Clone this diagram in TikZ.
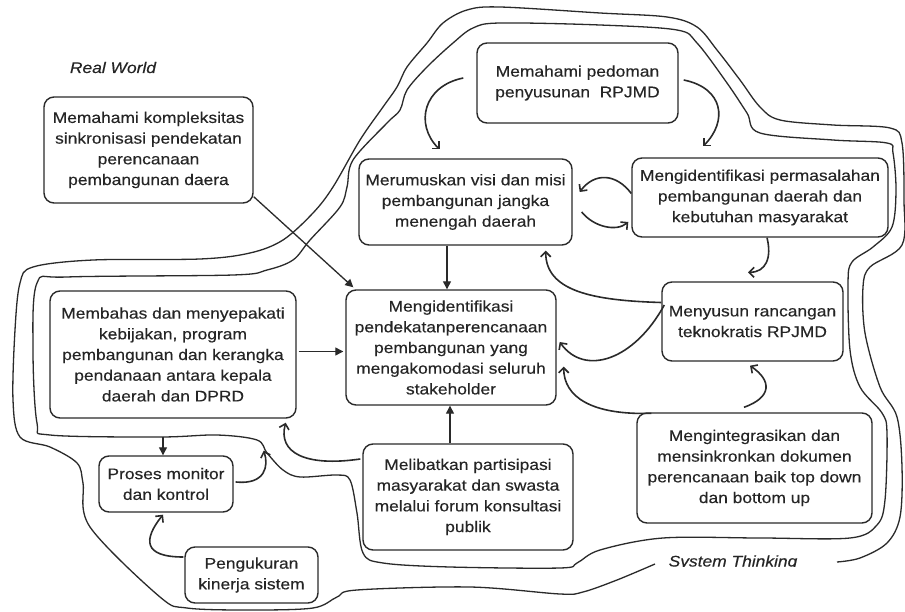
\documentclass[tikz,border=0pt]{standalone}
\usepackage{fontspec}
\setmainfont{Liberation Sans}[FakeStretch=1.13, FakeBold=0.3]
\usetikzlibrary{arrows.meta,calc}
\definecolor{ink}{HTML}{2A2A2A}
\definecolor{txt}{HTML}{252525}
\tikzset{
  bx/.style={draw=ink, line width=1.4pt, rounded corners=10pt, align=center,
    inner sep=0pt, text=txt, font=\fontsize{15.4pt}{20.7pt}\selectfont},
  lab/.style={inner sep=0pt, text=txt, font=\fontsize{15.4pt}{20.7pt}\selectfont\itshape},
  bound/.style={draw=ink, line width=1.3pt},
  sa/.style={draw=ink, line width=1.3pt, -{Triangle[length=8pt,width=8pt]}},
  ca/.style={draw=ink, line width=1.6pt, -{Straight Barb[length=5pt,width=10pt]}}
}
\begin{document}
\begin{tikzpicture}[x=1pt,y=-1pt]
\fill[white] (0,0) rectangle (905,612);
\useasboundingbox (0,0) rectangle (905,612);

% outer boundary (open where the label sits)
\draw[bound] plot[smooth, tension=0.55] coordinates {
 (655,564) (617,580) (583,592) (560,594) (470,587) (357,590) (337,597) (313,608)
 (250,610) (187,608) (160,597) (90,527) (83,483) (77,463) (50,447) (20,437)
 (13,400) (15,330) (20,283) (33,267) (93,260) (200,259) (250,253) (283,240)
 (313,213) (333,187) (360,140) (383,107) (397,87) (407,67) (427,43) (443,23)
 (467,10) (500,7) (600,13) (667,17) (697,27) (717,50) (740,80) (760,107)
 (780,120) (833,125) (890,128) (902,143) (904,200) (902,245) (870,267)
 (863,287) (865,333) (880,387) (897,417) (902,467) (900,517) (887,543)
 (860,558) (837,562)};

% inner boundary
\draw[bound] plot[smooth cycle, tension=0.55] coordinates {
 (450,567) (560,568) (577,563) (600,550) (663,538) (760,538) (850,538)
 (877,525) (885,500) (887,433) (882,413) (860,387) (850,350) (848,283)
 (852,262) (873,247) (892,227) (896,190) (893,153) (887,143) (833,140)
 (760,133) (747,113) (727,83) (697,43) (677,30) (600,25) (500,23) (473,28)
 (453,43) (427,67) (407,90) (400,110) (387,123) (353,160) (347,187)
 (340,207) (310,240) (293,260) (267,270) (233,275) (67,277) (37,283)
 (33,350) (37,423) (50,435) (160,437) (217,435) (257,440) (267,453)
 (283,470) (300,477) (337,475) (350,480) (357,513) (363,553) (383,563)};

\node[lab, anchor=base] (rw) at (113,73) {Real World};
\begin{scope}
  % the label sits on the curve gap; its descenders are trimmed at the baseline
  \clip (600,540) rectangle (840,566.5);
  \node[lab, anchor=base] (st) at (733,566.5) {System Thinking};
\end{scope}

\node[bx, minimum width=209pt, minimum height=106pt] (A) at (148.5,150)
  {Memahami kompleksitas\\sinkronisasi pendekatan\\perencanaan\\pembangunan daera};
\node[bx, minimum width=201pt, minimum height=80pt] (B) at (577.5,83)
  {Memahami pedoman\\penyusunan\ \ RPJMD};
\node[bx, minimum width=213pt, minimum height=86pt] (C) at (465.5,202)
  {Merumuskan visi dan misi\\pembangunan jangka\\menengah daerah};
\node[bx, minimum width=256pt, minimum height=79pt] (D) at (760,197.5)
  {Mengidentifikasi permasalahan\\pembangunan daerah dan\\kebutuhan masyarakat};
\node[bx, minimum width=246pt, minimum height=127pt] (E) at (173,354.5)
  {Membahas dan menyepakati\\kebijakan, program\\pembangunan dan kerangka\\pendanaan antara kepala\\daerah dan DPRD};
\node[bx, minimum width=210pt, minimum height=115pt] (F) at (451,347.5)
  {Mengidentifikasi\\pendekatanperencanaan\\pembangunan yang\\mengakomodasi seluruh\\stakeholder};
\node[bx, minimum width=181pt, minimum height=79pt] (G) at (752.5,321.5)
  {Menyusun rancangan\\teknokratis RPJMD};
\node[bx, minimum width=235pt, minimum height=110pt] (H) at (754.5,468)
  {Mengintegrasikan dan\\mensinkronkan dokumen\\perencanaan baik top down\\dan bottom up};
\node[bx, minimum width=210pt, minimum height=106pt] (I) at (468,497)
  {Melibatkan partisipasi\\masyarakat dan swasta\\melalui forum konsultasi\\publik};
\node[bx, minimum width=134pt, minimum height=56pt] (J) at (166,484)
  {Proses monitor\\dan kontrol};
\node[bx, minimum width=133pt, minimum height=56pt] (K) at (251.5,575)
  {Pengukuran\\kinerja sistem};

% straight connectors
\draw[sa] ($(A.south east)+(0,-7)$) -- ($(F.north west)+(8,-2)$);
\draw[sa] ($(C.south)+(-18.5,0)$) -- ($(F.north)+(-4,0)$);
\draw[sa] ($(E.east)+(2,-3)$) -- ($(F.west)+(-2,4)$);
\draw[sa] ($(I.north)+(-18,0)$) -- ($(F.south)+(-1,0)$);
\draw[sa] ($(E.south)+(-10,18)$) -- ($(J.north)+(-3,0)$);

% curved connectors
\draw[ca] ($(B.west)+(-13,-5)$) .. controls +(-40,8) and +(-25,-25) .. ($(C.north)+(-26,-9)$);
\draw[ca] ($(B.east)+(5,-3)$) .. controls +(40,8) and +(25,-25) .. ($(D.north)+(-57,-11)$);
\draw[ca] ($(D.west)+(0,-4)$) .. controls +(-15,-20) and +(15,-20) .. ($(C.east)+(7,-10)$);
\draw[ca] ($(C.east)+(9,10)$) .. controls +(12,15) and +(-12,10) .. ($(D.west)+(-3,24.5)$);
\draw[ca] ($(D.south)+(7,0)$) .. controls +(5,20) and +(18,0) .. ($(G.north)+(-4.5,-9)$);
\draw[ca] ($(G.west)+(0,-19)$) .. controls +(-70,-2) and +(0,40) .. ($(C.south east)+(-27,5)$);
\draw[ca] ($(G.west)+(3,-16.5)$) .. controls +(-30,55) and +(25,35) .. ($(F.east)+(3,-5.5)$);
\draw[ca] ($(H.north west)+(15,1)$) .. controls +(-60,2) and +(0,30) .. ($(F.south east)+(7,-39)$);
\draw[ca] ($(H.north)+(-10.5,-5)$) .. controls +(28,-10) and +(22,15) .. ($(G.south)+(-2.5,4)$);
\draw[ca] ($(I.west)+(-2,-38)$) .. controls +(-55,8) and +(-8,30) .. ($(E.south east)+(-11,4)$);
\draw[ca] ($(J.east)+(2,-2)$) .. controls +(30,3) and +(5,15) .. ($(E.south east)+(-33,32)$);
\draw[ca] ($(K.west)+(-1,-18)$) .. controls +(-40,0) and +(-20,25) .. ($(J.south)+(-3,2)$);
\end{tikzpicture}
\end{document}
